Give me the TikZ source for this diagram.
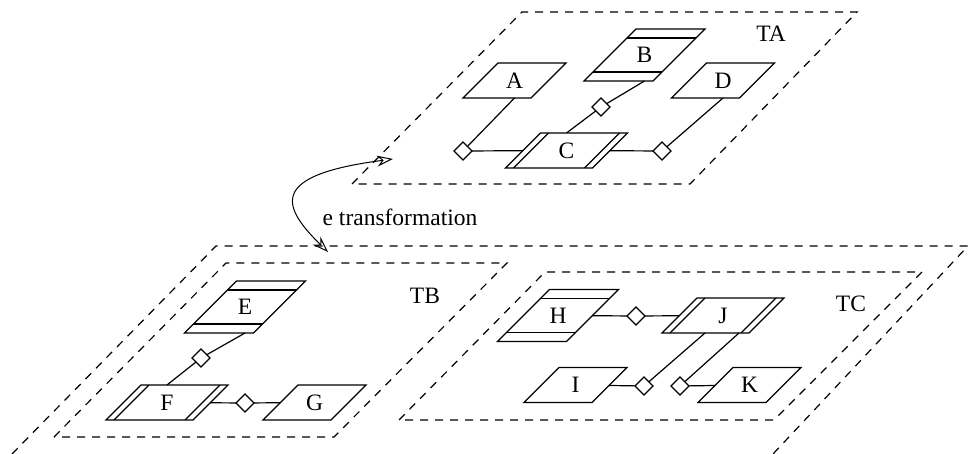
\documentclass[tikz,border=0pt]{standalone}
\usepackage{fontspec}
\setmainfont{Liberation Serif}
\usepackage{tikz}
\usetikzlibrary{shapes.geometric, arrows.meta}
\tikzset{
  entitybox/.style={trapezium, trapezium left angle=45, trapezium right angle=135, draw, fill=white, inner sep=0pt, outer sep=0pt, text width=16.5pt, align=center, text height=12.65pt, text depth=4.85pt},
  stackbox/.style={entitybox, text width=8.5pt, text height=16.9pt, text depth=9.1pt, path picture={\draw ([yshift=-4.5pt]path picture bounding box.north west) -- ([yshift=-4.5pt]path picture bounding box.north east) ([yshift=4.5pt]path picture bounding box.south west) -- ([yshift=4.5pt]path picture bounding box.south east);}},
  linkbox/.style={entitybox, text width=26pt, path picture={\draw ([xshift=4pt]path picture bounding box.south west) -- ([xshift=21.5pt]path picture bounding box.north west) ([xshift=-21.5pt]path picture bounding box.south east) -- ([xshift=-4pt]path picture bounding box.north east);}},
  relnode/.style={diamond, draw, fill=white, inner sep=0pt, outer sep=0pt, minimum width=9pt, minimum height=9pt},
  areabox/.style={dash pattern=on 4pt off 3.5pt},
  arrow/.style={{Stealth[open, length=8pt, width=5.5pt]}-{Stealth[open, length=8pt, width=5.5pt]}}
}

\begin{document}
\begin{tikzpicture}[x=0.5pt, y=-0.5pt, line width=0.6pt, font=\fontsize{11.75}{14}\selectfont]
  \useasboundingbox (0,0) rectangle (969,454);

  \draw[areabox] (352,184) -- (522,12) -- (857,12) -- (690,184) -- cycle;
  \draw[areabox] (12,454) -- (216,246) -- (968,246) -- (773,454);
  \draw[areabox] (54,437) -- (226,263) -- (507,263) -- (334,437) -- cycle;
  \draw[areabox] (399,420) -- (545,272) -- (922,272) -- (774,420) -- cycle;

  \node (TA) at (771,33.5) {TA};
  \node (TB) at (425,296) {TB};
  \node (TC) at (851,304) {TC};

  \node[entitybox] (A) at (514.5,80.5) {A};
  \node[stackbox] (B) at (644.5,55) {B};
  \node[linkbox] (C) at (566.5,150.5) {C};
  \node[entitybox] (D) at (723,80.5) {D};
  \node[relnode] (rA) at (463,151) {};
  \node[relnode] (rB) at (601,107) {};
  \node[relnode] (rD) at (662,151) {};

  \node[stackbox] (E) at (245,307) {E};
  \node[linkbox] (F) at (167,402.5) {F};
  \node[entitybox] (G) at (314.5,402.5) {G};
  \node[relnode] (rE) at (201,358) {};
  \node[relnode] (rF) at (245,403) {};

  \node[stackbox] (H) at (558,315.5) {H};
  \node[linkbox] (J) at (723,315.5) {J};
  \node[entitybox] (I) at (575.5,385) {I};
  \node[entitybox] (K) at (749.5,385) {K};
  \node[relnode] (rH) at (636,316) {};
  \node[relnode] (rI) at (644,386) {};
  \node[relnode] (rK) at (680,386) {};

  \draw (A.south) -- (rA) -- (C);
  \draw (B.south) -- (rB) -- (C.north);
  \draw (D.south) -- (rD) -- (C);
  \draw (E.south) -- (rE) -- (F.north);
  \draw (F) -- (rF) -- (G);
  \draw (H) -- (rH) -- (J);
  \draw (I) -- (rI) -- ([xshift=-9pt]J.south);
  \draw ([xshift=8pt]J.south) -- (rK) -- (K);

  \coordinate (tA) at (393,159);
  \coordinate (tB) at (328,252);
  \draw[arrow, line width=0.5pt] (tA) .. controls (270,175) and (280,205) .. (tB);
  \node (tf) at (400,217) {e transformation};
\end{tikzpicture}
\end{document}
